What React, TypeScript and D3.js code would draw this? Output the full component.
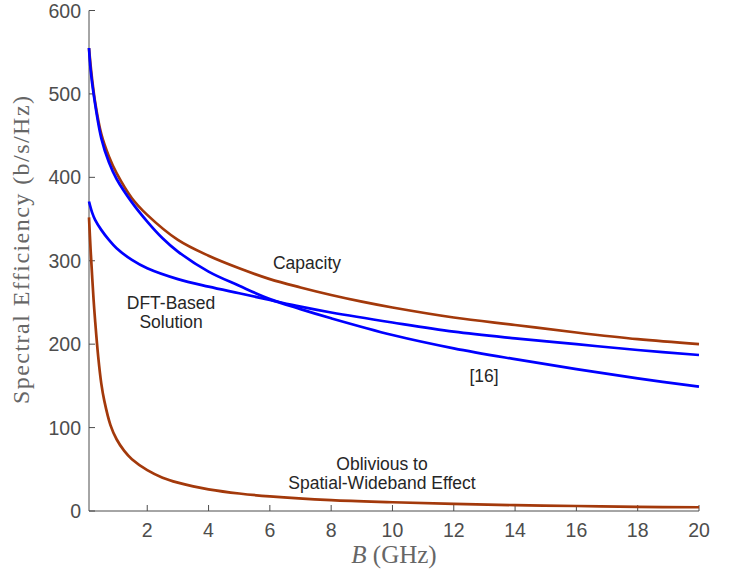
import React from "react";
import * as d3 from "d3";

const bCapacity = [0.1, 0.15, 0.2, 0.3, 0.5, 0.75, 1, 1.5, 2, 3, 4, 5, 6, 7, 8, 9, 10, 12, 14, 16, 18, 20];
const capacity = [555, 535, 518, 490, 452, 425, 405, 375, 355, 325, 306, 291, 278, 268, 259, 251, 244, 232, 223, 214, 206, 200];

const bRef16 = [0.1, 0.15, 0.25, 0.5, 0.75, 1, 1.5, 2, 2.5, 3, 4, 5, 6, 7, 8, 10, 12, 14, 16, 18, 20];
const ref16 = [555, 530, 500, 447, 418, 398, 370, 347, 327, 311, 287, 270, 254, 242, 231, 211, 195, 182, 170, 159, 149];

const bDft = [0.1, 0.2, 0.3, 0.5, 0.75, 1, 1.5, 2, 3, 4, 5, 6, 7, 8, 10, 12, 14, 16, 18, 20];
const dft = [371, 358, 349, 337, 325, 315, 301, 291, 278, 269, 261, 253, 245, 238, 226, 215, 207, 200, 193, 187];

const bObl = [0.1, 0.15, 0.2, 0.25, 0.3, 0.4, 0.5, 0.6, 0.8, 1, 1.25, 1.5, 2, 2.5, 3, 3.5, 4, 5, 6, 8, 10, 12, 14, 16, 18, 20];
const oblivious = [352, 315, 283, 253, 228, 185, 153, 132, 103, 86, 72, 62, 49, 40, 34, 29.5, 26, 21, 17.5, 13, 10.5, 8.5, 7, 6, 5, 4.5];

const xTicks = [2, 4, 6, 8, 10, 12, 14, 16, 18, 20];
const yTicks = [0, 100, 200, 300, 400, 500, 600];

const BROWN = "#a3390b";
const BLUE = "#0000ff";
const AXIS = "#4d4d4d";

export default function App() {
  const left = 89, right = 699, top = 10.5, bottom = 511;
  const x = d3.scaleLinear().domain([0.1, 20]).range([left, right]);
  const y = d3.scaleLinear().domain([0, 600]).range([bottom, top]);
  const line = (bs: number[], vs: number[]) =>
    d3.line<number>().x((_, i) => x(bs[i])).y((v) => y(v)).curve(d3.curveCatmullRom.alpha(0.5))(vs) || "";

  const sans = "'Liberation Sans', Arial, Helvetica, sans-serif";
  const serif = "'Liberation Serif', 'DejaVu Serif', serif";

  return (
    <svg width={736} height={572} style={{ position: "absolute", left: 0, top: 0, background: "#fff" }}>
      <rect width={736} height={572} fill="#fff" />
      <line x1={left} x2={left} y1={top} y2={bottom} stroke={AXIS} strokeWidth={1} />
      <line x1={left} x2={right} y1={bottom} y2={bottom} stroke={AXIS} strokeWidth={1} />
      {yTicks.map((t) => (
        <g key={"y" + t}>
          <line x1={left} x2={left + 6} y1={y(t)} y2={y(t)} stroke={AXIS} />
          <text x={81} y={y(t)} dy="0.36em" textAnchor="end" fontFamily={sans} fontSize={19.5} fill={AXIS}>
            {t}
          </text>
        </g>
      ))}
      {xTicks.map((t) => (
        <g key={"x" + t}>
          <line x1={x(t)} x2={x(t)} y1={bottom} y2={bottom - 6} stroke={AXIS} />
          <text x={x(t)} y={537} textAnchor="middle" fontFamily={sans} fontSize={19.5} fill={AXIS}>
            {t}
          </text>
        </g>
      ))}
      <path d={line(bObl, oblivious)} fill="none" stroke={BROWN} strokeWidth={2.7} />
      <path d={line(bCapacity, capacity)} fill="none" stroke={BROWN} strokeWidth={2.7} />
      <path d={line(bDft, dft)} fill="none" stroke={BLUE} strokeWidth={2.7} />
      <path d={line(bRef16, ref16)} fill="none" stroke={BLUE} strokeWidth={2.7} />
      <g fontFamily={sans} fontSize={17.5} fill="#262626" textAnchor="middle">
        <text x={307} y={269}>Capacity</text>
        <text x={171} y={309}>DFT-Based</text>
        <text x={171} y={328}>Solution</text>
        <text x={484} y={382}>[16]</text>
        <text x={382} y={470}>Oblivious to</text>
        <text x={382} y={489}>Spatial-Wideband Effect</text>
      </g>
      <text
        transform="translate(29,250) rotate(-90)"
        textAnchor="middle"
        fontFamily={serif}
        fontSize={24}
        fill="#666"
        textLength={308}
        lengthAdjust="spacing"
      >
        Spectral Efficiency (b/s/Hz)
      </text>
      <text x={394} y={563} textAnchor="middle" fontFamily={serif} fontSize={25} fill="#666">
        <tspan fontStyle="italic">B</tspan> (GHz)
      </text>
    </svg>
  );
}
